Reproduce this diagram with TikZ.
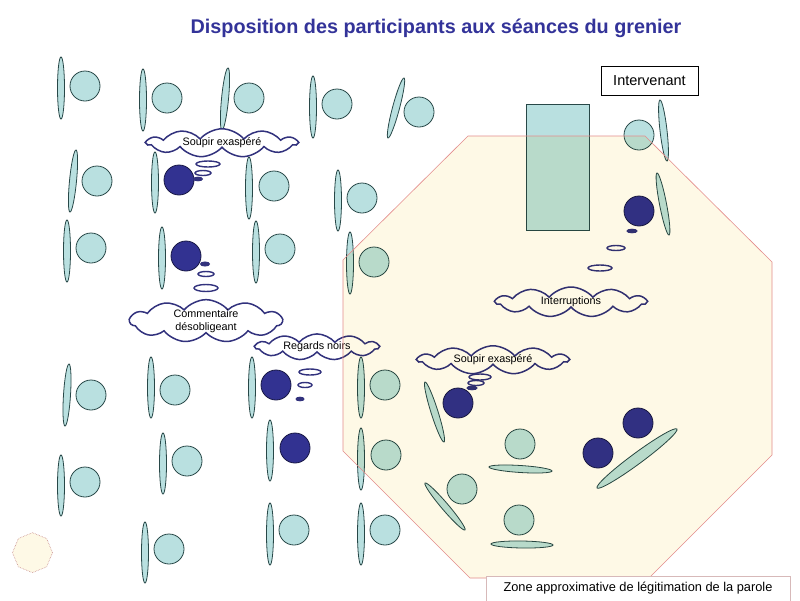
\documentclass[tikz,border=0pt]{standalone}
\usepackage{fontspec}
\setmainfont{Liberation Sans}
\usetikzlibrary{shapes.symbols,shapes.geometric}
\definecolor{pblue}{RGB}{185,224,224}
\definecolor{pline}{RGB}{40,72,72}
\definecolor{pdark}{RGB}{50,50,145}
\definecolor{pdarkline}{RGB}{25,25,70}
\definecolor{cloudc}{RGB}{50,50,125}
\definecolor{titlec}{RGB}{51,51,153}
\definecolor{zonefill}{RGB}{254,249,230}
\definecolor{zoneline}{RGB}{228,140,140}
\definecolor{labline}{RGB}{215,185,185}
\tikzset{
  chairst/.style={draw=pline, fill=pblue, line width=0.8},
  persst/.style={draw=pline, fill=pblue, line width=0.8},
  darkst/.style={draw=pdarkline, fill=pdark, line width=0.8},
  bub/.style={draw=cloudc, fill=white, line width=1.4},
  bubf/.style={draw=cloudc, fill=cloudc, line width=1},
  thought/.style={cloud, cloud puffs=11, cloud puff arc=100, cloud ignores aspect,
    draw=cloudc, line width=1.5, fill=white, inner sep=0pt,
    font=\fontsize{10.8}{12.5}\selectfont, align=center},
}
\newcommand\chairX[5]{%
  \pgfmathsetmacro\cang{atan2(-(#4-#2),#3-#1)}%
  \pgfmathsetmacro\clen{veclen(#3-#1,#4-#2)/2}%
  \draw[chairst, shift={({(#1+#3)/2},{(#2+#4)/2})}, rotate=\cang] (0,0) ellipse [x radius=\clen, y radius=#5];}
\newcommand\pers[2]{\draw[persst] (#1,#2) circle [radius=15];}
\newcommand\dpers[2]{\draw[darkst] (#1,#2) circle [radius=15];}
\begin{document}
\begin{tikzpicture}[x=1pt,y=-1pt]
\useasboundingbox (0,0) rectangle (800,600);
\fill[white] (0,0) rectangle (800,600);
% title
\node[font=\bfseries\fontsize{19.8}{22}\selectfont, text=titlec] (title) at (436,28) {Disposition des participants aux séances du grenier};
% table
\draw[chairst] (526,104) rectangle (589,230);
% row 1
\chairX{61}{57}{61}{119}{3.5} \pers{85}{86}
\chairX{143}{69}{143}{131}{3.5} \pers{167}{98}
\chairX{228}{68}{222}{130}{3.5} \pers{249}{98}
\chairX{313}{76}{313}{138}{3.5} \pers{337}{104}
\chairX{404}{78}{388}{138}{3.5} \pers{419}{112}
% row 2
\chairX{76}{150}{70}{212}{3.5} \pers{97}{181}
\chairX{155}{152}{155}{213}{3.5} \dpers{179}{180}
\chairX{249}{157}{249}{219}{3.5} \pers{274}{186}
\chairX{338}{170}{338}{231}{3.5} \pers{362}{198}
% row 3
\chairX{67}{220}{67}{282}{3.5} \pers{91}{248}
\chairX{162}{227}{162}{289}{3.5} \dpers{186}{256}
\chairX{256}{221}{256}{283}{3.5} \pers{280}{249}
\chairX{350}{232}{350}{294}{3.5} \pers{374}{262}
% row 4
\chairX{69}{364}{65}{426}{3.5} \pers{91}{395}
\chairX{151}{357}{151}{418}{3.5} \pers{175}{390}
\chairX{252}{357}{252}{418}{3.5} \dpers{276}{385}
\chairX{361}{357}{361}{418}{3.5} \pers{385}{385}
\chairX{425}{382}{444}{442}{3.5} \dpers{458}{403}
% row 5
\chairX{61}{455}{61}{516}{3.5} \pers{85}{482}
\chairX{163}{433}{163}{494}{3.5} \pers{187}{461}
\chairX{270}{420}{270}{481}{3.5} \dpers{295}{448}
\chairX{361}{428}{361}{490}{3.5} \pers{386}{455}
\chairX{489}{467}{552}{471}{3.5} \pers{520}{444}
\chairX{425}{483}{465}{530}{3.5} \pers{462}{489}
\chairX{597}{488}{677}{429}{5.5} \dpers{598}{453} \dpers{638}{423}
\chairX{491}{544}{553}{545}{3.5} \pers{519}{520}
% row 6
\chairX{145}{522}{145}{583}{3.5} \pers{169}{549}
\chairX{270}{503}{270}{565}{3.5} \pers{294}{530}
\chairX{361}{503}{361}{565}{3.5} \pers{385}{530}
% top right
\chairX{660}{100}{667}{161}{3.5} \pers{639}{135}
\chairX{657}{173}{669}{235}{3.5} \dpers{639}{211}
% thought bubbles
\draw[bub] (208,164) ellipse [x radius=12, y radius=3];
\draw[bub] (203,173) ellipse [x radius=8, y radius=2.5];
\draw[bubf] (198,179) ellipse [x radius=4.5, y radius=1.8];
\draw[bubf] (205,264) ellipse [x radius=4.5, y radius=2];
\draw[bub] (206,274) ellipse [x radius=8, y radius=2.5];
\draw[bub] (206,288) ellipse [x radius=12, y radius=3.5];
\draw[bub] (310,372) ellipse [x radius=11, y radius=3];
\draw[bub] (305,385) ellipse [x radius=7, y radius=2.5];
\draw[bubf] (300,399) ellipse [x radius=4, y radius=1.8];
\draw[bub] (480,377) ellipse [x radius=11, y radius=3];
\draw[bub] (476,383) ellipse [x radius=8, y radius=2.5];
\draw[bubf] (472,388) ellipse [x radius=5, y radius=1.8];
\draw[bubf] (632,231) ellipse [x radius=5, y radius=1.8];
\draw[bub] (616,248) ellipse [x radius=9, y radius=2.5];
\draw[bub] (600,268) ellipse [x radius=12, y radius=3];
% clouds
\node[thought, minimum width=150, minimum height=27] (c1) at (222,143) {Soupir exaspéré};
\node[thought, minimum width=152, minimum height=36] (c2) at (206,321) {Commentaire\\désobligeant};
\node[thought, minimum width=123, minimum height=26] (c3) at (317,347) {Regards noirs};
\node[thought, minimum width=150, minimum height=26] (c4) at (493,360) {Soupir exaspéré};
\node[thought, minimum width=150, minimum height=30] (c5) at (571,302) {Interruptions};
% zone octagon (multiply overlay)
\begin{scope}[blend mode=multiply]
\fill[zonefill] (468,136) -- (645,136) -- (772,262) -- (772,455) -- (649,578) -- (470,578) -- (343,451) -- (343,260) -- cycle;
\end{scope}
\draw[zoneline, line width=0.6] (468,136) -- (645,136) -- (772,262) -- (772,455) -- (649,578) -- (470,578) -- (343,451) -- (343,260) -- cycle;
% small octagon
\draw[zoneline!70!gray, fill=zonefill, densely dotted, line width=0.6]
  (34,545) ++(22.5:20) -- ++(112.5:15.3) -- ++(157.5:15.3) -- ++(202.5:15.3) -- ++(247.5:15.3) -- ++(292.5:15.3) -- ++(337.5:15.3) -- ++(22.5:15.3) -- cycle;
% labels
\node[draw=black, line width=1, fill=white, minimum width=97, minimum height=29, inner sep=0pt, font=\fontsize{14.5}{16}\selectfont] (interv) at (649.5,80.5) {Intervenant};
\node[draw=labline, line width=0.8, fill=white, minimum width=304, minimum height=25, inner sep=0pt, font=\fontsize{12.8}{15}\selectfont] (zone) at (638,588.5) {Zone approximative de légitimation de la parole};
\end{tikzpicture}
\end{document}
